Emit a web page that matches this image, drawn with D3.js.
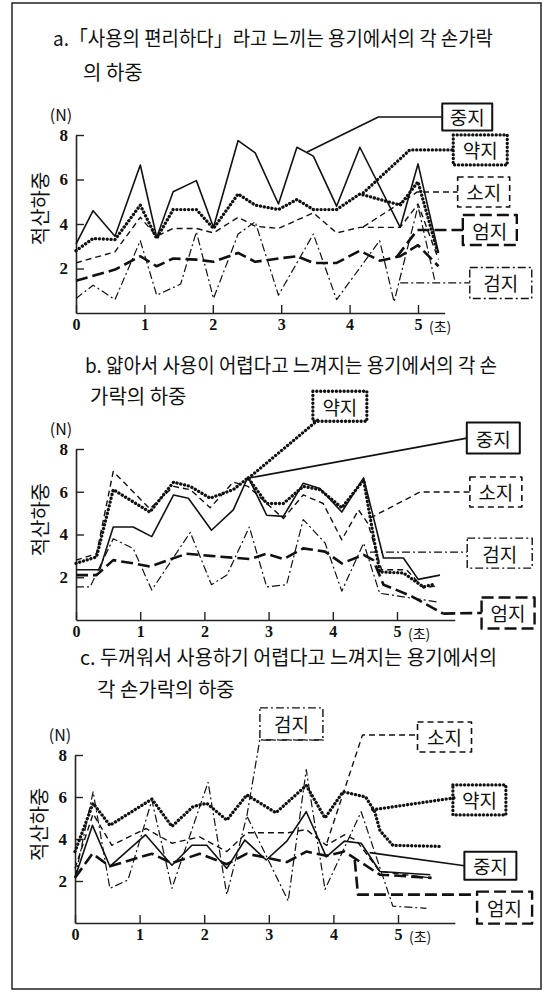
<!DOCTYPE html>
<html>
<head>
<meta charset="utf-8">
<script src="https://cdnjs.cloudflare.com/ajax/libs/d3/7.8.5/d3.min.js"></script>
<style>
    body { margin: 0; background: #fff; }
    svg text { font-family: "Noto Sans CJK KR", "Noto Sans", sans-serif; fill: #111; }
    .num { font-family: "Liberation Serif", serif; font-weight: bold; }
</style>
</head>
<body>
<div id="chart"></div>
<script>
'use strict';

// finger names (series), tick values
const fingers = ['검지', '엄지', '소지', '약지', '중지'];
const xTicks = [0, 1, 2, 3, 4, 5];
const yTicks = [2, 4, 6, 8];
const xUnit = '(초)';
const yUnit = '(N)';
const yTitle = '적산하중';

// panel a: [time (s), load (N)]
const aMiddle = [[0, 3.1], [0.25, 4.6], [0.57, 3.45], [0.94, 6.65], [1.18, 3.4], [1.42, 5.45], [1.76, 5.95], [2.01, 3.85], [2.37, 7.75], [2.62, 7.2], [2.96, 4.9], [3.23, 7.45], [3.47, 7.05], [3.81, 4.8], [4.15, 7.45], [4.74, 3.85], [5.0, 6.7], [5.3, 2.7]];
const aRing = [[0, 2.8], [0.25, 3.35], [0.57, 3.3], [0.94, 4.85], [1.18, 3.35], [1.42, 4.65], [1.76, 4.65], [2.01, 3.8], [2.37, 5.35], [2.62, 4.85], [2.96, 4.65], [3.23, 5.1], [3.47, 4.65], [3.81, 4.65], [4.15, 5.35], [4.74, 4.85], [5.0, 5.9], [5.3, 2.6]];
const aLittle = [[0, 2.25], [0.57, 2.75], [0.94, 4.3], [1.18, 3.45], [1.42, 3.8], [1.76, 3.8], [2.01, 3.6], [2.37, 4.3], [2.62, 3.9], [2.96, 3.8], [3.47, 4.5], [3.81, 3.6], [4.15, 3.85], [4.74, 3.85], [5.0, 4.9], [5.3, 2.4]];
const aThumb = [[0, 1.45], [0.57, 1.95], [0.94, 2.55], [1.18, 2.1], [1.42, 2.45], [1.76, 2.4], [2.01, 2.3], [2.37, 2.7], [2.62, 2.3], [2.96, 2.45], [3.23, 2.55], [3.47, 2.25], [3.81, 2.25], [4.15, 2.8], [4.44, 2.35], [4.74, 2.55], [5.0, 3.05], [5.3, 2.1]];
const aIndex = [[0, 0.65], [0.25, 1.25], [0.57, 0.6], [0.94, 3.25], [1.18, 0.8], [1.53, 1.3], [1.76, 3.65], [2.01, 0.65], [2.37, 3.55], [2.62, 4.1], [2.96, 0.8], [3.47, 3.55], [3.81, 0.6], [4.44, 3.25], [4.65, 0.5], [5.0, 4.8], [5.25, 1.4]];

// panel b
const bMiddle = [[0, 2.35], [0.37, 2.35], [0.58, 4.35], [0.89, 4.35], [1.18, 3.9], [1.52, 5.85], [1.75, 5.7], [2.11, 4.2], [2.45, 5.15], [2.68, 6.7], [2.97, 4.9], [3.23, 4.85], [3.54, 6.4], [3.8, 6.15], [4.14, 5.05], [4.48, 6.65], [4.79, 2.9], [5.1, 2.9], [5.33, 1.9], [5.67, 2.1]];
const bRing = [[0, 2.65], [0.32, 2.95], [0.58, 6.1], [1.15, 5.05], [1.52, 6.45], [1.78, 6.25], [2.09, 5.7], [2.45, 6.1], [2.68, 6.65], [2.97, 5.45], [3.23, 5.45], [3.54, 6.25], [3.8, 6.1], [4.14, 5.25], [4.48, 6.55], [4.73, 2.25], [5.1, 2.2], [5.41, 1.55], [5.55, 1.65]];
const bLittle = [[0, 2.8], [0.32, 3.1], [0.58, 6.95], [1.15, 5.2], [1.52, 6.25], [1.78, 6.1], [2.09, 5.25], [2.45, 6.45], [2.68, 6.25], [3.23, 4.75], [3.54, 5.85], [3.85, 5.45], [4.14, 3.75], [4.4, 5.15], [4.55, 4.5], [4.76, 2.35], [5.15, 2.35], [5.41, 1.5], [5.62, 1.6]];
const bThumb = [[0, 2.1], [0.32, 2.1], [0.58, 2.8], [0.89, 2.65], [1.15, 2.5], [1.72, 3.1], [2.09, 3.0], [2.71, 2.85], [2.97, 3.1], [3.23, 2.85], [3.54, 3.35], [3.88, 3.2], [4.14, 2.65], [4.48, 3.05], [4.63, 2.8], [4.79, 1.65], [5.2, 1.15], [5.72, 0.3]];
const bIndex = [[0, 1.55], [0.22, 1.55], [0.58, 3.8], [0.89, 3.35], [1.18, 1.4], [1.78, 4.1], [2.11, 1.65], [2.35, 2.1], [2.7, 4.35], [2.97, 1.55], [3.28, 1.65], [3.54, 4.7], [3.88, 3.6], [4.14, 1.35], [4.48, 3.6], [4.73, 1.25], [5.62, 0.85]];

// panel c
const cMiddle = [[0, 2.15], [0.27, 4.65], [0.54, 2.7], [1.09, 4.2], [1.5, 2.75], [1.81, 3.7], [2.04, 3.7], [2.35, 2.6], [2.63, 3.95], [2.96, 3.0], [3.28, 3.9], [3.58, 5.3], [3.89, 3.15], [4.17, 3.9], [4.43, 3.8], [4.72, 2.45], [5.5, 2.3]];
const cRing = [[0, 3.4], [0.28, 5.7], [0.54, 4.65], [1.19, 5.9], [1.5, 4.6], [1.83, 5.55], [2.04, 5.7], [2.35, 4.9], [2.66, 6.1], [3.11, 5.25], [3.58, 6.55], [3.87, 5.0], [4.15, 6.25], [4.5, 6.0], [4.64, 5.3], [4.72, 4.4], [4.92, 3.7], [5.64, 3.65]];
const cLittle = [[0, 2.6], [0.28, 5.2], [0.57, 3.7], [1.1, 4.5], [1.5, 3.8], [1.93, 4.1], [2.35, 3.4], [2.66, 4.3], [3.3, 4.3], [3.58, 4.45], [3.89, 3.7], [4.17, 4.2], [4.35, 3.95], [4.72, 2.45], [5.5, 2.15]];
const cThumb = [[0, 2.15], [0.27, 3.3], [0.54, 2.7], [1.19, 3.3], [1.5, 2.85], [1.93, 3.3], [2.35, 2.8], [2.66, 3.3], [3.28, 2.9], [3.58, 3.4], [3.89, 3.2], [4.17, 3.4], [4.72, 2.3], [5.52, 2.15]];
const cIndex = [[0, 2.15], [0.28, 6.25], [0.54, 1.65], [0.82, 2.05], [1.19, 5.85], [1.5, 1.65], [2.06, 6.7], [2.35, 1.35], [2.66, 5.1], [3.3, 1.05], [3.58, 7.3], [3.87, 1.6], [4.43, 5.3], [4.92, 0.8], [5.44, 0.7]];

const W = 550, H = 992;

const styles = {
    '중지': { w: 1.6, dash: null, cap: 'butt', boxW: 2 },
    '약지': { w: 3.3, dash: '0.1,3.8', cap: 'round', boxW: 3.3 },
    '소지': { w: 1.4, dash: '6,4', cap: 'butt', boxW: 1.6 },
    '엄지': { w: 2.6, dash: '12,5', cap: 'butt', boxW: 2.4 },
    '검지': { w: 1.2, dash: '8,3,2,3', cap: 'butt', boxW: 1.4 }
};

const panels = [
    {
        title: [
            { text: 'a.「사용의 편리하다」라고 느끼는 용기에서의 각 손가락', x: 53, y: 46, len: 440 },
            { text: '의 하중', x: 83, y: 80 }
        ],
        xRange: [76, 418], yRange: [313, 135], xEnd: 5.39,
        series: { '중지': aMiddle, '약지': aRing, '소지': aLittle, '엄지': aThumb, '검지': aIndex },
        callouts: [
            { name: '중지', path: [[3.38, 7.24], [4.42, 8.81], [5.35, 8.81]], box: [5.72, 8.81], bw: 50, bh: 27 },
            { name: '약지', path: [[4.2, 5.4], [4.88, 7.33], [5.51, 7.33]], box: [5.91, 7.33], bw: 54, bh: 30 },
            { name: '소지', path: [[4.2, 3.87], [4.99, 5.44], [5.58, 5.44]], box: [5.96, 5.44], bw: 52, bh: 30 },
            { name: '엄지', path: [[4.69, 2.52], [4.99, 3.73], [5.66, 3.73]], box: [6.05, 3.73], bw: 54, bh: 30 },
            { name: '검지', path: [[4.74, 1.35], [5.76, 1.35]], box: [6.21, 1.35], bw: 62, bh: 31 }
        ]
    },
    {
        title: [
            { text: 'b. 얇아서 사용이 어렵다고 느껴지는 용기에서의 각 손', x: 85, y: 373, len: 412 },
            { text: '가락의 하중', x: 90, y: 404 }
        ],
        xRange: [76, 397], yRange: [620, 449], xEnd: 5.9,
        series: { '중지': bMiddle, '약지': bRing, '소지': bLittle, '엄지': bThumb, '검지': bIndex },
        callouts: [
            { name: '약지', path: [[2.69, 6.64], [3.77, 9.36]], box: [4.11, 10.0], bw: 54, bh: 30 },
            { name: '중지', path: [[2.69, 6.64], [6.09, 8.51]], box: [6.5, 8.51], bw: 53, bh: 31 },
            { name: '소지', path: [[4.58, 4.77], [5.36, 5.99], [6.14, 5.99]], box: [6.54, 5.99], bw: 52, bh: 30 },
            { name: '검지', path: [[4.58, 3.18], [6.09, 3.18]], box: [6.6, 3.13], bw: 65, bh: 30 },
            { name: '엄지', path: [[5.72, 0.3], [6.32, 0.33]], box: [6.73, 0.33], bw: 53, bh: 31 }
        ]
    },
    {
        title: [
            { text: 'c. 두꺼워서 사용하기 어렵다고 느껴지는 용기에서의', x: 80, y: 665, len: 417 },
            { text: '각 손가락의 하중', x: 97, y: 697 }
        ],
        xRange: [75, 398], yRange: [923, 755], xEnd: 5.88,
        series: { '중지': cMiddle, '약지': cRing, '소지': cLittle, '엄지': cThumb, '검지': cIndex },
        callouts: [
            { name: '검지', path: [[2.66, 5.1], [2.86, 8.71], [3.85, 8.71]], box: [3.35, 9.48], bw: 63, bh: 32 },
            { name: '소지', path: [[3.9, 3.82], [4.45, 8.95], [5.3, 8.95]], box: [5.72, 8.86], bw: 54, bh: 30 },
            { name: '약지', path: [[4.61, 5.39], [5.88, 5.96]], box: [6.26, 5.86], bw: 53, bh: 30 },
            { name: '중지', path: [[4.56, 3.35], [6.03, 2.73]], box: [6.43, 2.73], bw: 52, bh: 28 },
            { name: '엄지', path: [[4.33, 3.01], [4.38, 1.35], [6.23, 1.35]], box: [6.65, 0.73], bw: 55, bh: 32 }
        ]
    }
];

const svg = d3.select('#chart').append('svg')
    .attr('width', W)
    .attr('height', H);

svg.append('rect')
    .attr('x', 12).attr('y', 3)
    .attr('width', 529).attr('height', 986)
    .attr('fill', 'none')
    .attr('stroke', '#222')
    .attr('stroke-width', 1.5);

function applyStyle(sel, name, width) {
    const s = styles[name];
    sel.attr('fill', 'none')
        .attr('stroke', '#111')
        .attr('stroke-width', width)
        .attr('stroke-linecap', s.cap)
        .attr('stroke-linejoin', 'round')
        .attr('stroke-dasharray', s.dash);
}

function drawPanel(p) {
    const g = svg.append('g');
    const x = d3.scaleLinear().domain([0, 5]).range(p.xRange);
    const y = d3.scaleLinear().domain([0, 8]).range(p.yRange);

    p.title.forEach(t => {
        const txt = g.append('text')
            .attr('x', t.x).attr('y', t.y)
            .attr('font-size', 20)
            .text(t.text);
        if (t.len) txt.attr('textLength', t.len).attr('lengthAdjust', 'spacingAndGlyphs');
    });

    // axes
    const xAxisScale = x.copy().domain([0, p.xEnd]).range([x(0), x(p.xEnd)]);
    const xAxis = g.append('g')
        .attr('transform', `translate(0,${y(0)})`)
        .call(d3.axisBottom(xAxisScale).tickValues(xTicks).tickFormat(d3.format('d'))
            .tickSizeInner(-8).tickSizeOuter(0).tickPadding(6));
    xAxis.selectAll('text').attr('class', 'num').attr('font-size', 16);

    const yAxis = g.append('g')
        .attr('transform', `translate(${x(0)},0)`)
        .call(d3.axisLeft(y).tickValues(yTicks).tickSizeInner(-8).tickSizeOuter(0).tickPadding(8));
    yAxis.selectAll('text').attr('class', 'num').attr('font-size', 17);

    [xAxis, yAxis].forEach(a => {
        a.select('.domain').attr('stroke', '#222').attr('stroke-width', 1.6);
        a.selectAll('.tick line').attr('stroke', '#222').attr('stroke-width', 1.4);
    });

    g.append('text')
        .attr('x', x(5) + 11).attr('y', y(0) + 19)
        .attr('font-size', 14)
        .text(xUnit);

    g.append('text')
        .attr('x', x(0) - 15).attr('y', y(8) - 14)
        .attr('text-anchor', 'middle')
        .attr('font-size', 16)
        .attr('font-family', 'Liberation Sans, sans-serif')
        .text(yUnit);

    g.append('text')
        .attr('transform', `translate(${x(0) - 33},${y(4.7)}) rotate(-90)`)
        .attr('text-anchor', 'middle')
        .attr('dominant-baseline', 'middle')
        .attr('font-size', 20)
        .text(yTitle);

    // series
    const line = d3.line()
        .x(d => x(d[0]))
        .y(d => y(d[1]));

    fingers.forEach(name => {
        g.append('path')
            .datum(p.series[name])
            .attr('d', line)
            .call(applyStyle, name, styles[name].w);
    });

    // callouts
    p.callouts.forEach(c => {
        g.append('path')
            .datum(c.path)
            .attr('d', d3.line().x(d => x(d[0])).y(d => y(d[1])))
            .call(applyStyle, c.name, styles[c.name].w);

        const cx = x(c.box[0]), cy = y(c.box[1]);
        g.append('rect')
            .attr('x', cx - c.bw / 2).attr('y', cy - c.bh / 2)
            .attr('width', c.bw).attr('height', c.bh)
            .attr('fill', '#fff')
            .call(applyStyle, c.name, styles[c.name].boxW);

        g.append('text')
            .attr('x', cx).attr('y', cy)
            .attr('text-anchor', 'middle')
            .attr('dominant-baseline', 'central')
            .attr('font-size', 19)
            .text(c.name);
    });
}

panels.forEach(drawPanel);
</script>
</body>
</html>
